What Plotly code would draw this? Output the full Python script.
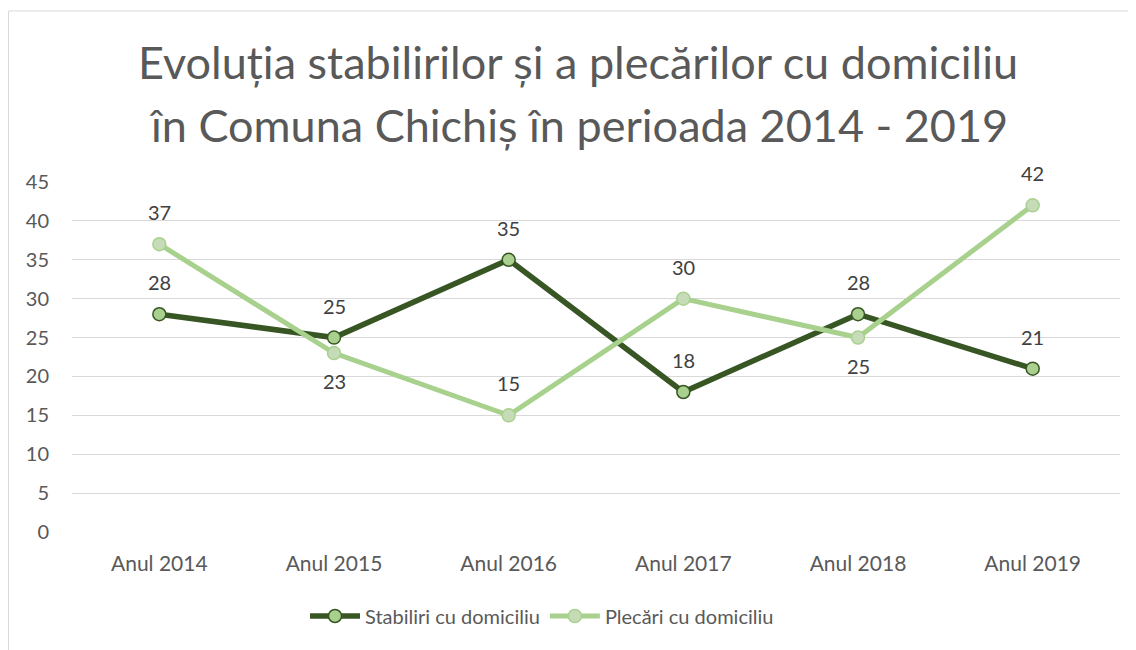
import plotly.graph_objects as go

categories = ["Anul 2014", "Anul 2015", "Anul 2016", "Anul 2017", "Anul 2018", "Anul 2019"]
stabiliri = [28, 25, 35, 18, 28, 21]
plecari = [37, 23, 15, 30, 25, 42]
plecari_label_pos = ["above", "below", "above", "above", "below", "above"]
stabiliri_label_pos = ["above"] * 6

title_lines = ["Evoluția stabilirilor și a plecărilor cu domiciliu",
               "în Comuna Chichiș în perioada 2014 - 2019"]

FONT = "Lato"
OFF = 8  # default page body margin
W, H = 1136 - OFF, 650 - OFF
ML, MR, MT, MB = 72 - OFF, 16, 182 - OFF, 118
PH = H - MT - MB
PW = W - ML - MR

def py(pix):
    return (H - MB - (pix - OFF)) / PH

def px(pix):
    return ((pix - OFF) - ML) / PW

fig = go.Figure()
fig.add_trace(go.Scatter(
    x=categories, y=stabiliri, name="Stabiliri cu domiciliu", mode="lines+markers",
    line=dict(color="#375623", width=5.5),
    marker=dict(size=13, color="#a9d08e", line=dict(color="#375623", width=1.5)),
))
fig.add_trace(go.Scatter(
    x=categories, y=plecari, name="Plecări cu domiciliu", mode="lines+markers",
    line=dict(color="#a9d18e", width=5),
    marker=dict(size=13, color="#c6dcb9", line=dict(color="#a9d18e", width=1.5)),
))

annotations = []
for vals, poss in ((stabiliri, stabiliri_label_pos), (plecari, plecari_label_pos)):
    for c, v, p in zip(categories, vals, poss):
        annotations.append(dict(
            x=c, y=v, xref="x", yref="y", text=str(v), showarrow=False,
            yshift=32 if p == "above" else -28, yanchor="middle",
            font=dict(family=FONT, size=20, color="#404040"),
        ))
for line, ypix in zip(title_lines, (62, 125)):
    annotations.append(dict(
        x=px(578), y=py(ypix), xref="paper", yref="paper", text=line, showarrow=False,
        xanchor="center", yanchor="middle",
        font=dict(family=FONT, size=45, color="#595959"),
    ))

fig.update_layout(
    width=W, height=H,
    margin=dict(l=ML, r=MR, t=MT, b=MB),
    paper_bgcolor="white", plot_bgcolor="white",
    font=dict(family=FONT, color="#595959", size=20),
    showlegend=True,
    legend=dict(orientation="h", x=px(542), xanchor="center", y=py(616), yanchor="middle",
                font=dict(family=FONT, size=20, color="#595959"), itemwidth=50),
    annotations=annotations,
    shapes=[dict(type="rect", xref="paper", yref="paper",
                 x0=px(8.5), x1=px(1150), y0=py(700), y1=py(11),
                 line=dict(color="#d9d9d9", width=1), layer="below")],
    xaxis=dict(showgrid=False, showline=False, zeroline=False, ticks="",
               range=[-0.5, len(categories) - 0.5],
               tickfont=dict(family=FONT, size=21, color="#595959"),
               ticklabelstandoff=17),
    yaxis=dict(range=[0, 45], dtick=5, showgrid=True, gridcolor="#d9d9d9", gridwidth=1.3,
               zeroline=False, showline=False, ticks="",
               tickfont=dict(family=FONT, size=20, color="#595959"),
               ticklabelstandoff=22),
)

fig.write_html("out.html")
